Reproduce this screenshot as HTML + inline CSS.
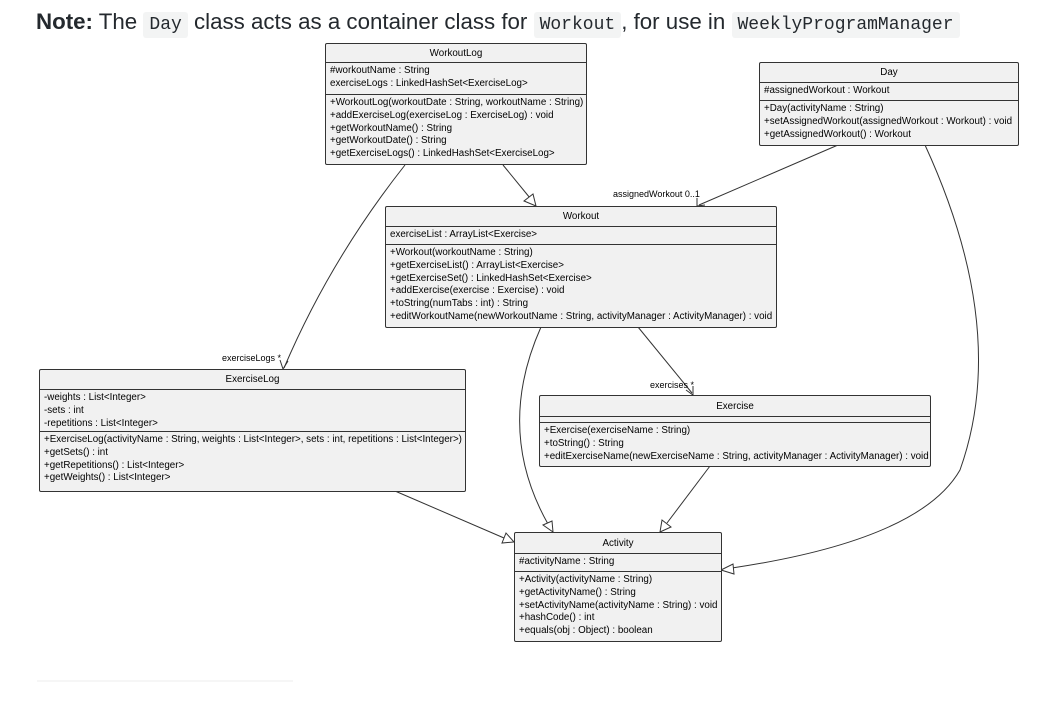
<!DOCTYPE html>
<html><head><style>
body{margin:0;width:1050px;height:707px;background:#fff;position:relative;overflow:hidden;font-family:"Liberation Sans",sans-serif}
.t{position:absolute;left:36px;top:9px;font-size:22.3px;color:#24292e;white-space:nowrap}
.t code{font-family:"Liberation Mono",monospace;font-size:18px;background:#f3f4f4;padding:3px 6px;border-radius:3px}
.c{position:absolute;background:#f1f1f1;border:1px solid #333;border-radius:2px;font-size:9.8px;color:#000;box-sizing:border-box}
.c .h{text-align:center;border-bottom:1px solid #333;box-sizing:border-box;display:flex;align-items:center;justify-content:center}
.c .s{border-bottom:1px solid #333;padding:2px 4px;line-height:12.8px;box-sizing:border-box;white-space:nowrap}
.c .s:last-child{border-bottom:none}
svg{position:absolute;left:0;top:0}
.l{position:absolute;font-size:9px;white-space:nowrap}
</style></head><body>
<div class="t"><b>Note:</b> The <code>Day</code> class acts as a container class for <code>Workout</code>, for use in <code>WeeklyProgramManager</code></div>
<svg width="1050" height="707">
<g stroke="#333" fill="none" stroke-width="1">
<line x1="503" y1="165" x2="530" y2="198"/>
<path d="M405 165 Q330 260 284 368"/>
<line x1="838" y1="145" x2="699" y2="205"/>
<path d="M925 145 Q1010 330 960 470 Q920 540 732 568"/>
<line x1="638" y1="327" x2="692" y2="393"/>
<path d="M541 327 Q495 430 548 524"/>
<line x1="710" y1="466" x2="667" y2="523"/>
<line x1="395" y1="491" x2="504" y2="538"/>
</g>
<g stroke="#333" fill="#fff">
<polygon points="536,206 524,201 533,194"/>
<polygon points="553,532 543,525 552,521"/>
<polygon points="660,532 662,520 671,527"/>
<polygon points="514,542 502,543 506,533"/>
<polygon points="721,570 733,564 734,574"/>
</g>
<g stroke="#333" fill="none">
<polyline points="280,360 283,369 288,361"/>
<polyline points="697,198 697,206 705,205"/>
<polyline points="686,390 693,395 693,386"/>
</g>
<line x1="37" y1="681" x2="293" y2="681" stroke="#eee"/>
</svg>
<div class="l" style="left:222px;top:353px">exerciseLogs *</div>
<div class="l" style="left:613px;top:189px">assignedWorkout 0..1</div>
<div class="l" style="left:650px;top:380px">exercises *</div>

<div class="c" style="left:325px;top:43px;width:262px;height:122px">
<div class="h" style="height:19px">WorkoutLog</div>
<div class="s" style="height:32px">#workoutName : String<br>exerciseLogs : LinkedHashSet&lt;ExerciseLog&gt;</div>
<div class="s">+WorkoutLog(workoutDate : String, workoutName : String)<br>+addExerciseLog(exerciseLog : ExerciseLog) : void<br>+getWorkoutName() : String<br>+getWorkoutDate() : String<br>+getExerciseLogs() : LinkedHashSet&lt;ExerciseLog&gt;</div>
</div>

<div class="c" style="left:759px;top:62px;width:260px;height:84px">
<div class="h" style="height:20px">Day</div>
<div class="s" style="height:18px">#assignedWorkout : Workout</div>
<div class="s">+Day(activityName : String)<br>+setAssignedWorkout(assignedWorkout : Workout) : void<br>+getAssignedWorkout() : Workout</div>
</div>

<div class="c" style="left:385px;top:206px;width:392px;height:122px">
<div class="h" style="height:20px">Workout</div>
<div class="s" style="height:18px">exerciseList : ArrayList&lt;Exercise&gt;</div>
<div class="s">+Workout(workoutName : String)<br>+getExerciseList() : ArrayList&lt;Exercise&gt;<br>+getExerciseSet() : LinkedHashSet&lt;Exercise&gt;<br>+addExercise(exercise : Exercise) : void<br>+toString(numTabs : int) : String<br>+editWorkoutName(newWorkoutName : String, activityManager : ActivityManager) : void</div>
</div>

<div class="c" style="left:39px;top:369px;width:427px;height:123px">
<div class="h" style="height:20px">ExerciseLog</div>
<div class="s" style="height:42px">-weights : List&lt;Integer&gt;<br>-sets : int<br>-repetitions : List&lt;Integer&gt;</div>
<div class="s">+ExerciseLog(activityName : String, weights : List&lt;Integer&gt;, sets : int, repetitions : List&lt;Integer&gt;)<br>+getSets() : int<br>+getRepetitions() : List&lt;Integer&gt;<br>+getWeights() : List&lt;Integer&gt;</div>
</div>

<div class="c" style="left:539px;top:395px;width:392px;height:72px">
<div class="h" style="height:21px">Exercise</div>
<div class="s" style="height:6px;padding:0"></div>
<div class="s">+Exercise(exerciseName : String)<br>+toString() : String<br>+editExerciseName(newExerciseName : String, activityManager : ActivityManager) : void</div>
</div>

<div class="c" style="left:514px;top:532px;width:208px;height:110px">
<div class="h" style="height:21px">Activity</div>
<div class="s" style="height:18px">#activityName : String</div>
<div class="s">+Activity(activityName : String)<br>+getActivityName() : String<br>+setActivityName(activityName : String) : void<br>+hashCode() : int<br>+equals(obj : Object) : boolean</div>
</div>
</body></html>
